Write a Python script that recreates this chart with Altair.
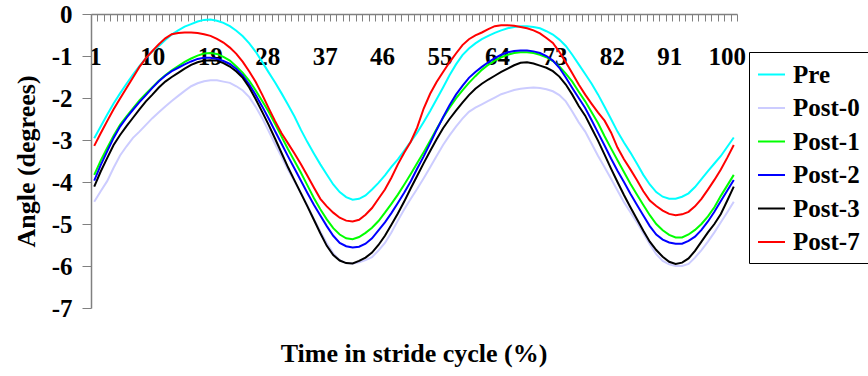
import altair as alt
import pandas as pd

series_names = ["Pre", "Post-0", "Post-1", "Post-2", "Post-3", "Post-7"]
series_colors = ["#00FFFF", "#CCCCFF", "#00FF00", "#0000FF", "#000000", "#FF0000"]

stride = list(range(1, 101))

pre = [
    -2.96, -2.68, -2.40, -2.13, -1.89, -1.66, -1.44, -1.24, -1.05, -0.89,
    -0.76, -0.62, -0.49, -0.39, -0.30, -0.24, -0.18, -0.14, -0.13, -0.16,
    -0.21, -0.29, -0.40, -0.53, -0.70, -0.90, -1.14, -1.39, -1.63, -1.89,
    -2.16, -2.44, -2.76, -3.05, -3.32, -3.58, -3.82, -4.06, -4.24, -4.36,
    -4.42, -4.40, -4.32, -4.18, -4.02, -3.84, -3.64, -3.46, -3.25, -3.04,
    -2.82, -2.57, -2.31, -2.03, -1.75, -1.46, -1.20, -0.98, -0.82, -0.70,
    -0.60, -0.52, -0.45, -0.39, -0.34, -0.31, -0.29, -0.29, -0.31, -0.34,
    -0.41, -0.49, -0.61, -0.76, -0.97, -1.20, -1.43, -1.66, -1.92, -2.21,
    -2.50, -2.80, -3.06, -3.30, -3.56, -3.83, -4.06, -4.24, -4.35, -4.40,
    -4.40, -4.35, -4.27, -4.12, -3.93, -3.74, -3.56, -3.38, -3.16, -2.94,
]

post0 = [
    -4.47, -4.22, -3.98, -3.66, -3.37, -3.15, -2.95, -2.80, -2.64, -2.48,
    -2.34, -2.20, -2.07, -1.95, -1.83, -1.72, -1.65, -1.60, -1.58, -1.58,
    -1.61, -1.64, -1.72, -1.82, -1.98, -2.21, -2.48, -2.79, -3.10, -3.40,
    -3.71, -3.98, -4.26, -4.56, -4.88, -5.18, -5.46, -5.70, -5.86, -5.93,
    -5.94, -5.91, -5.86, -5.79, -5.63, -5.45, -5.20, -4.92, -4.65, -4.40,
    -4.16, -3.91, -3.65, -3.38, -3.12, -2.89, -2.68, -2.49, -2.33, -2.23,
    -2.15, -2.07, -1.99, -1.91, -1.86, -1.81, -1.78, -1.76, -1.75, -1.76,
    -1.79, -1.84, -1.93, -2.08, -2.32, -2.58, -2.80, -3.09, -3.38, -3.65,
    -3.92, -4.20, -4.48, -4.72, -4.96, -5.22, -5.48, -5.72, -5.88, -5.96,
    -6.00, -6.00, -5.95, -5.80, -5.62, -5.42, -5.20, -4.96, -4.72, -4.47,
]

post1 = [
    -3.83, -3.49, -3.19, -2.90, -2.64, -2.44, -2.25, -2.06, -1.90, -1.74,
    -1.59, -1.46, -1.34, -1.24, -1.14, -1.06, -0.99, -0.94, -0.93, -0.95,
    -1.02, -1.11, -1.25, -1.40, -1.59, -1.82, -2.07, -2.33, -2.62, -2.92,
    -3.22, -3.50, -3.78, -4.08, -4.38, -4.65, -4.89, -5.10, -5.25, -5.34,
    -5.36, -5.31, -5.21, -5.09, -4.93, -4.73, -4.52, -4.30, -4.06, -3.81,
    -3.55, -3.29, -3.02, -2.74, -2.47, -2.23, -2.01, -1.82, -1.64, -1.48,
    -1.33, -1.21, -1.11, -1.03, -0.97, -0.93, -0.91, -0.91, -0.93, -0.97,
    -1.03, -1.12, -1.25, -1.42, -1.61, -1.85, -2.08, -2.34, -2.60, -2.91,
    -3.20, -3.48, -3.76, -4.04, -4.30, -4.55, -4.79, -5.00, -5.15, -5.26,
    -5.32, -5.32, -5.25, -5.14, -5.00, -4.82, -4.60, -4.33, -4.08, -3.83,
]

post2 = [
    -3.97, -3.60, -3.27, -2.95, -2.68, -2.47, -2.28, -2.10, -1.93, -1.76,
    -1.60, -1.47, -1.36, -1.28, -1.20, -1.13, -1.07, -1.04, -1.04, -1.07,
    -1.12, -1.19, -1.31, -1.47, -1.68, -1.93, -2.20, -2.49, -2.79, -3.09,
    -3.39, -3.68, -3.97, -4.26, -4.54, -4.80, -5.05, -5.28, -5.45, -5.53,
    -5.56, -5.54, -5.47, -5.34, -5.15, -4.96, -4.74, -4.50, -4.25, -3.98,
    -3.68, -3.39, -3.08, -2.76, -2.46, -2.17, -1.92, -1.71, -1.52, -1.38,
    -1.26, -1.15, -1.05, -0.97, -0.91, -0.88, -0.87, -0.87, -0.89, -0.93,
    -1.00, -1.11, -1.28, -1.51, -1.76, -2.00, -2.24, -2.53, -2.83, -3.13,
    -3.44, -3.73, -4.00, -4.28, -4.54, -4.80, -5.05, -5.25, -5.37, -5.44,
    -5.47, -5.47, -5.40, -5.30, -5.14, -4.94, -4.71, -4.45, -4.20, -3.95,
]

post3 = [
    -4.11, -3.75, -3.43, -3.12, -2.88, -2.67, -2.47, -2.27, -2.08, -1.92,
    -1.75, -1.61, -1.50, -1.40, -1.30, -1.21, -1.15, -1.11, -1.10, -1.11,
    -1.17, -1.25, -1.37, -1.52, -1.75, -2.03, -2.33, -2.64, -2.97, -3.31,
    -3.65, -3.96, -4.27, -4.58, -4.90, -5.22, -5.52, -5.74, -5.87, -5.93,
    -5.94, -5.88, -5.80, -5.68, -5.50, -5.28, -5.02, -4.75, -4.46, -4.15,
    -3.85, -3.55, -3.26, -2.98, -2.72, -2.50, -2.30, -2.11, -1.93, -1.78,
    -1.66, -1.56, -1.47, -1.38, -1.30, -1.22, -1.16, -1.15, -1.18, -1.23,
    -1.28, -1.36, -1.49, -1.68, -1.92, -2.19, -2.42, -2.72, -3.02, -3.35,
    -3.68, -4.00, -4.31, -4.60, -4.88, -5.16, -5.42, -5.62, -5.78, -5.90,
    -5.95, -5.92, -5.82, -5.64, -5.42, -5.20, -5.00, -4.76, -4.44, -4.11,
]

post7 = [
    -3.14, -2.84, -2.55, -2.27, -2.01, -1.76, -1.51, -1.26, -1.05, -0.88,
    -0.72, -0.58, -0.48, -0.45, -0.44, -0.44, -0.45, -0.48, -0.52, -0.59,
    -0.68, -0.80, -0.95, -1.14, -1.37, -1.62, -1.92, -2.24, -2.55, -2.84,
    -3.08, -3.32, -3.58, -3.85, -4.13, -4.40, -4.58, -4.73, -4.85, -4.92,
    -4.94, -4.90, -4.78, -4.62, -4.40, -4.18, -3.90, -3.58, -3.30, -3.04,
    -2.70, -2.25, -1.90, -1.62, -1.38, -1.15, -0.94, -0.74, -0.60, -0.51,
    -0.44, -0.36, -0.29, -0.27, -0.27, -0.28, -0.31, -0.34, -0.39, -0.46,
    -0.57, -0.69, -0.90, -1.15, -1.41, -1.68, -1.92, -2.14, -2.35, -2.54,
    -2.82, -3.18, -3.46, -3.70, -3.95, -4.22, -4.44, -4.57, -4.68, -4.76,
    -4.79, -4.77, -4.71, -4.58, -4.40, -4.18, -3.95, -3.70, -3.42, -3.12,
]

x_label_values = [1, 10, 19, 28, 37, 46, 55, 64, 73, 82, 91, 100]
y_tick_values = [0, -1, -2, -3, -4, -5, -6, -7]

rows = []
for name, vals in zip(series_names, [pre, post0, post1, post2, post3, post7]):
    for s, v in zip(stride, vals):
        rows.append({"stride": s, "angle": v, "series": name})
df = pd.DataFrame(rows)

# tick marks sit between categories (Excel style)
x_tick_values = [i - 0.5 for i in range(1, 102)]
label_set = ",".join(str(v) for v in x_label_values)

FONT = "Liberation Serif, Tinos, Times New Roman, Times, Nimbus Roman, DejaVu Serif, Noto Serif, serif"
AXIS_GREY = "#808080"
W, H = 646, 294

x_axis = alt.Axis(
    values=x_tick_values,
    orient="bottom",
    offset=-H,
    title=None,
    grid=False,
    domainColor=AXIS_GREY,
    domainWidth=1.5,
    tickColor=AXIS_GREY,
    tickWidth=1,
    tickSize=7,
    labelExpr=f"indexof([{label_set}], datum.value + 0.5) >= 0 ? format(datum.value + 0.5, 'd') : ''",
    labelOffset={"condition": {"test": "datum.value > 1000", "value": 0},
                 "expr": "3.23 - 0.078 * (datum.value + 0.5 - 10)"},
    labelBaseline="middle",
    labelPadding=35,
    labelFlush=False,
    labelOverlap=False,
    labelBound=False,
    labelFont=FONT,
    labelFontSize=25,
    labelFontWeight="bold",
    labelColor="black",
)

y_axis = alt.Axis(
    values=y_tick_values,
    title="Angle (degrees)",
    grid=False,
    domainColor=AXIS_GREY,
    domainWidth=1.5,
    tickColor=AXIS_GREY,
    tickSize=9,
    labelPadding=10,
    labelExpr="datum.value < 0 ? '-' + format(-datum.value, 'd') : format(datum.value, 'd')",
    labelFont=FONT,
    labelFontSize=25,
    labelFontWeight="bold",
    labelColor="black",
    titleFont=FONT,
    titleFontSize=26,
    titleFontWeight="bold",
    titleColor="black",
    titlePadding=12,
)

legend = alt.Legend(
    title=None,
    orient="none",
    legendX=658,
    legendY=38,
    strokeColor="black",
    fillColor="white",
    padding=8,
    symbolType="stroke",
    symbolStrokeWidth=2,
    symbolSize=729,
    labelFont=FONT,
    labelFontSize=25,
    labelFontWeight="bold",
    labelColor="black",
    labelOffset=7,
    rowPadding=5.5,
)

chart = (
    alt.Chart(df)
    .mark_line(strokeWidth=2)
    .encode(
        x=alt.X("stride:Q", scale=alt.Scale(domain=[0.5, 100.5], nice=False, zero=False), axis=x_axis),
        y=alt.Y("angle:Q", scale=alt.Scale(domain=[-7, 0], nice=False, zero=False), axis=y_axis),
        color=alt.Color("series:N", scale=alt.Scale(domain=series_names, range=series_colors), legend=legend),
    )
    .properties(
        width=W,
        height=H,
        autosize="none",
        padding={"left": 91, "top": 14, "right": 868 - 91 - W, "bottom": 376 - 14 - H},
        title=alt.TitleParams(
            text="Time in stride cycle (%)",
            orient="bottom",
            anchor="middle",
            frame="group",
            font=FONT,
            fontSize=26,
            fontWeight="bold",
            color="black",
            offset=20,
        ),
    )
    .configure_view(stroke=None)
)

chart.save("out.html", embed_options={"renderer": "svg", "actions": False})
